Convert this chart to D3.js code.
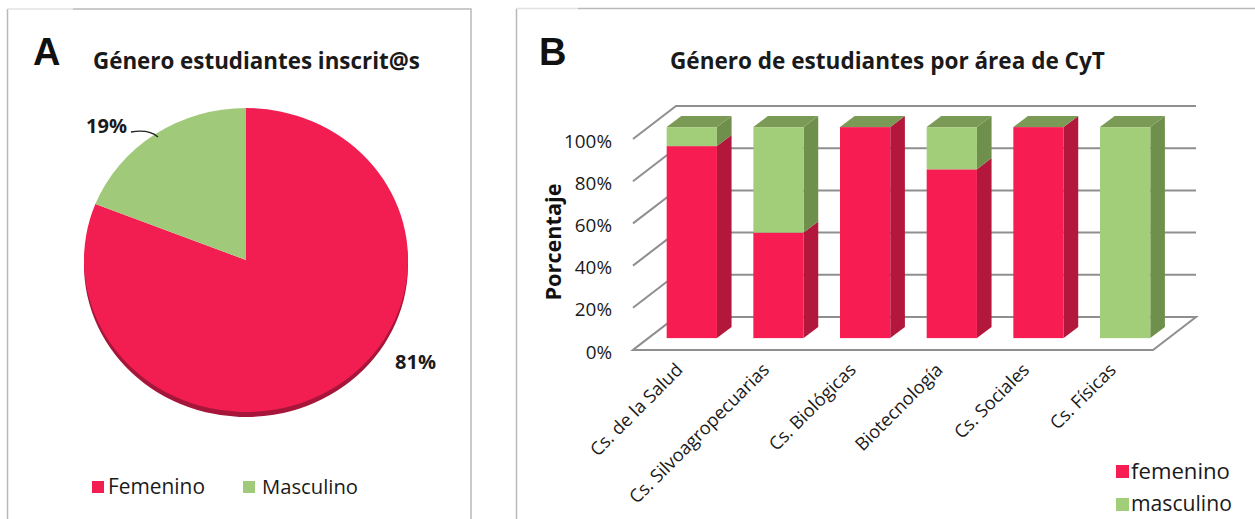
<!DOCTYPE html>
<html>
<head>
<meta charset="utf-8">
<script src="https://cdn.jsdelivr.net/npm/d3@7"></script>
<style>
  html, body { margin: 0; padding: 0; background: #fff; }
  svg { display: block; font-family: "Open Sans", Lato, sans-serif; }
</style>
</head>
<body>
<svg id="chart" width="1255" height="519"></svg>
<script>
// ---------- data ----------
const pieCategories = ["Femenino", "Masculino"];
const pieValues = [81, 19];
const pieLabels = ["81%", "19%"];

const areas = ["Cs. de la Salud", "Cs. Silvoagropecuarias", "Cs. Biológicas", "Biotecnología", "Cs. Sociales", "Cs. Físicas"];
const femenino = [91, 50, 100, 80, 100, 0];
const masculino = [9, 50, 0, 20, 0, 100];
const seriesNames = ["femenino", "masculino"];
const yTicks = [0, 20, 40, 60, 80, 100];

// ---------- colours ----------
const RED = "#f71c52", RED_SIDE = "#b3173b";
const GREEN = "#a2cd79", GREEN_SIDE = "#6f8f4d", GREEN_TOP = "#7a9a55";
const PIE_RED = "#f21d50", PIE_GREEN = "#a0ca79", PIE_RIM = "#a5163a";
const TXT = "#1a1a1a";

const svg = d3.select("#chart");

// fit a text element horizontally to a target width (adjusts font size)
function fit(sel, target) {
  const node = sel.node();
  const fs = parseFloat(sel.attr("font-size"));
  const w = node.getComputedTextLength();
  if (w > 0) sel.attr("font-size", (fs * target / w).toFixed(2));
  return sel;
}

// ---------- panel frames ----------
const frame = svg.append("g").attr("fill", "none").attr("stroke", "#b9b9b9").attr("stroke-width", 1.5);
frame.append("path").attr("d", "M7.5,519 V9 M73,9 H471 V519");
frame.append("path").attr("d", "M7.5,9 H73").attr("stroke", "#e2e2e2");
frame.append("path").attr("d", "M516.5,519 V8.5 M578,8.5 H1255");
frame.append("path").attr("d", "M516.5,8.5 H578").attr("stroke", "#e2e2e2");

// ================= Panel A : pie =================
const gA = svg.append("g");
gA.append("text").attr("x", 33).attr("y", 65).attr("font-family", "Liberation Sans, Arial, sans-serif")
  .attr("font-weight", "bold").attr("font-size", 38).attr("fill", "#111").text("A");
fit(gA.append("text").attr("x", 93).attr("y", 69)
  .attr("font-weight", "bold").attr("font-size", 20).attr("fill", TXT).text("Género estudiantes inscrit@s"), 327);

const cx = 246, cy = 260, rx = 162, ry = 152, R = 100;
const pie = d3.pie().sort(null).value(d => d)(pieValues);
const arc = d3.arc().innerRadius(0).outerRadius(R);
const colors = [PIE_RED, PIE_GREEN];

// 3D rim
gA.append("g").attr("transform", `translate(${cx},${cy + 5}) scale(${rx / R},${ry / R})`)
  .append("path").attr("d", arc(pie[0])).attr("fill", PIE_RIM);
gA.append("g").attr("transform", `translate(${cx},${cy})  scale(${rx / R},${ry / R})`)
  .selectAll("path").data(pie).join("path")
  .attr("d", arc).attr("fill", (d, i) => colors[i]);

// labels
fit(gA.append("text").attr("x", 395).attr("y", 362).attr("dy", "0.35em")
  .attr("font-weight", "bold").attr("font-size", 18).attr("fill", TXT).text(pieLabels[0]), 41);
fit(gA.append("text").attr("x", 86).attr("y", 126).attr("dy", "0.35em")
  .attr("font-weight", "bold").attr("font-size", 18).attr("fill", TXT).text(pieLabels[1]), 41);
gA.append("path").attr("d", "M131,132 Q149,129 158,137").attr("fill", "none").attr("stroke", "#222").attr("stroke-width", 1.3);

// legend A
const legA = gA.append("g");
const legAx = [92, 243];
const legAw = [97, 96];
pieCategories.forEach((c, i) => {
  legA.append("rect").attr("x", legAx[i]).attr("y", 481).attr("width", 12).attr("height", 12).attr("fill", colors[i]);
  fit(legA.append("text").attr("x", legAx[i] + (i === 0 ? 16 : 19)).attr("y", 487).attr("dy", "0.35em")
    .attr("font-size", 18).attr("fill", TXT).text(c), legAw[i]);
});

// ================= Panel B : 3D stacked bars =================
const gB = svg.append("g");
gB.append("text").attr("x", 539).attr("y", 65).attr("font-family", "Liberation Sans, Arial, sans-serif")
  .attr("font-weight", "bold").attr("font-size", 38).attr("fill", "#111").text("B");
fit(gB.append("text").attr("x", 670).attr("y", 69)
  .attr("font-weight", "bold").attr("font-size", 20).attr("fill", TXT).text("Género de estudiantes por área de CyT"), 435);

const x0 = 633, x1 = 1153;
const depthX = 43, depthY = 33;          // full depth vector
const zFront = 0.36, zBack = 0.70;       // bar depth inside the box
const x = d3.scaleBand().domain(areas).range([x0, x1]).paddingInner(0.42).paddingOuter(0.21);
const y = d3.scaleLinear().domain([0, 100]).range([350, 139]); // front plane
const P = (px, v, z) => [px + z * depthX, y(v) - z * depthY];

// walls: gridlines on back wall + diagonals on left wall
const grid = gB.append("g").attr("stroke", "#8f8f8f").attr("stroke-width", 2).attr("fill", "none");
yTicks.forEach(t => {
  const a = P(x0, t, 0), b = P(x0, t, 1), c = P(x1, t, 1);
  grid.append("path").attr("d", `M${a}L${b}L${c}`);
});
// floor
const f1 = P(x0, 0, 0), f2 = P(x1, 0, 0), f3 = P(x1, 0, 1), f4 = P(x0, 0, 1);
gB.append("path").attr("d", `M${f1}L${f2}L${f3}L${f4}Z`).attr("fill", "#fff")
  .attr("stroke", "#8f8f8f").attr("stroke-width", 2);

// y axis labels
const yl = gB.append("g").selectAll("text").data(yTicks).join("text")
  .attr("x", 612).attr("y", d => y(d) + 2).attr("dy", "0.35em").attr("text-anchor", "end")
  .attr("font-size", 19).attr("fill", TXT).text(d => d + "%");
{
  const top = yl.filter(d => d === 100);
  fit(top, 48);
  yl.attr("font-size", top.attr("font-size"));
}
fit(gB.append("text").attr("transform", "translate(561,242) rotate(-90)").attr("text-anchor", "middle")
  .attr("font-weight", "bold").attr("font-size", 20).attr("fill", "#111").text("Porcentaje"), 117);

// bars
const stackData = areas.map((a, i) => ({ area: a, segs: [
  { v0: 0, v1: femenino[i], front: RED, side: RED_SIDE },
  { v0: femenino[i], v1: femenino[i] + masculino[i], front: GREEN, side: GREEN_SIDE }
]}));
const bars = gB.append("g").selectAll("g").data(stackData).join("g");
bars.each(function (d) {
  const g = d3.select(this);
  const bx = x(d.area), bw = x.bandwidth();
  d.segs.forEach(s => {
    if (s.v1 - s.v0 <= 0) return;
    const a = P(bx + bw, s.v0, zFront), b = P(bx + bw, s.v1, zFront), c = P(bx + bw, s.v1, zBack), e = P(bx + bw, s.v0, zBack);
    g.append("path").attr("d", `M${a}L${b}L${c}L${e}Z`).attr("fill", s.side);
    const tl = P(bx, s.v1, zFront), br = P(bx + bw, s.v0, zFront);
    g.append("rect").attr("x", tl[0]).attr("y", tl[1]).attr("width", bw).attr("height", br[1] - tl[1]).attr("fill", s.front);
  });
  const top = 100;
  const t1 = P(bx, top, zFront), t2 = P(bx + bw, top, zFront), t3 = P(bx + bw, top, zBack), t4 = P(bx, top, zBack);
  g.append("path").attr("d", `M${t1}L${t2}L${t3}L${t4}Z`).attr("fill", GREEN_TOP);
});

// x labels
const xl = gB.append("g").selectAll("text").data(areas).join("text")
  .attr("transform", d => `translate(${x(d) + x.bandwidth() / 2 + zFront * depthX - 8},371) rotate(-45)`)
  .attr("text-anchor", "end").attr("font-size", 17).attr("fill", TXT).text(d => d);
{
  const longest = xl.filter(d => d === "Cs. Silvoagropecuarias");
  fit(longest, 189);
  xl.attr("font-size", longest.attr("font-size"));
}

// legend B
const legB = gB.append("g");
const legBw = [99, 101];
[RED, GREEN].forEach((c, i) => {
  legB.append("rect").attr("x", 1116).attr("y", 465 + i * 33).attr("width", 13).attr("height", 13).attr("fill", c);
  fit(legB.append("text").attr("x", 1131).attr("y", 471 + i * 33).attr("dy", "0.35em")
    .attr("font-size", 18.5).attr("fill", TXT).text(seriesNames[i]), legBw[i]);
});
</script>
</body>
</html>
